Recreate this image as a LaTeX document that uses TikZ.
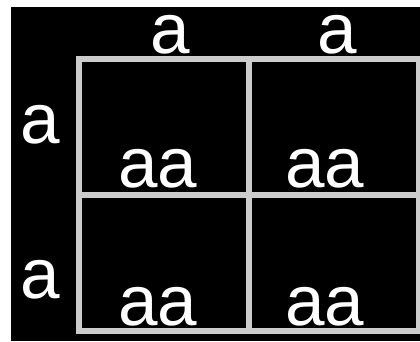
\documentclass[tikz,border=0pt]{standalone}
\usepackage{fontspec}
\setmainfont{Liberation Sans}
\usetikzlibrary{positioning}

\begin{document}
\begin{tikzpicture}[x=1pt,y=-1pt,
    gridline/.style={draw=gray!40, line width=6pt},
    cell/.style={gridline, minimum width=170pt, minimum height=136pt,
                 inner sep=0pt, anchor=north west},
    allele/.style={text=white, inner sep=0pt, anchor=base,
                   text height=38pt, text depth=0pt,
                   font=\fontsize{71}{71}\selectfont}]
  \useasboundingbox (0,0) rectangle (420,341);
  \fill[black] (11,7) rectangle (420,341);

  % Cells
  \node[cell] (c11) at (76,56) {};
  \node[cell] (c12) at (246,56) {};
  \node[cell] (c21) at (76,192) {};
  \node[cell] (c22) at (246,192) {};

  % Gametes
  \node[allele] (top1) at (170,53) {a};
  \node[allele] (top2) at (337,53) {a};
  \node[allele] (left1) at (40,143) {a};
  \node[allele] (left2) at (40,298) {a};

  % Offspring
  \node[allele] (o11) at (158,187) {aa};
  \node[allele] (o12) at (325,187) {aa};
  \node[allele] (o21) at (158,325) {aa};
  \node[allele] (o22) at (325,325) {aa};
\end{tikzpicture}
\end{document}
